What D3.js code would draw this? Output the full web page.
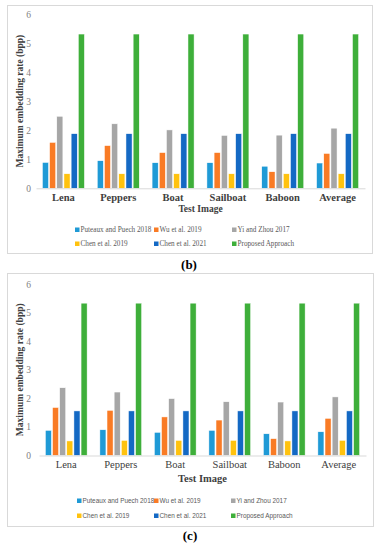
<!DOCTYPE html>
<html><head><meta charset="utf-8">
<script src="https://cdn.jsdelivr.net/npm/d3@7"></script>
<style>body{margin:0;background:#fff}svg{display:block}</style>
</head><body>
<svg id="c" width="379" height="550"></svg>
<script>
const categories = ["Lena","Peppers","Boat","Sailboat","Baboon","Average"];
const seriesNames = ["Puteaux and Puech 2018","Wu et al. 2019","Yi and Zhou 2017","Chen et al. 2019","Chen et al. 2021","Proposed Approach"];
const seriesColors = ["#1f9ad6","#f97b25","#a6a6a6","#ffc20e","#1469c4","#3eaf3a"];
const yTicks = [0,1,2,3,4,5,6];

// Chart (b)
const bPuteaux  = [0.89,0.95,0.88,0.88,0.76,0.87];
const bWu       = [1.58,1.47,1.23,1.23,0.57,1.20];
const bYi       = [2.48,2.22,2.01,1.82,1.83,2.07];
const bChen2019 = [0.50,0.50,0.50,0.50,0.50,0.50];
const bChen2021 = [1.88,1.88,1.88,1.88,1.88,1.88];
const bProposed = [5.31,5.31,5.31,5.31,5.31,5.31];

// Chart (c)
const cPuteaux  = [0.88,0.90,0.81,0.88,0.76,0.83];
const cWu       = [1.68,1.58,1.35,1.24,0.59,1.30];
const cYi       = [2.37,2.22,1.99,1.88,1.87,2.05];
const cChen2019 = [0.51,0.53,0.53,0.53,0.51,0.53];
const cChen2021 = [1.56,1.56,1.56,1.56,1.56,1.56];
const cProposed = [5.33,5.33,5.33,5.33,5.33,5.33];

const svg = d3.select("#c");
const SERIF = "'Liberation Serif','Times New Roman',serif";
const SANS = "'Liberation Sans',Arial,sans-serif";

function drawChart(opt){
  const series = opt.series;
  const g = svg.append("g");
  g.append("rect").attr("x",opt.box[0]+0.5).attr("y",opt.box[1]+0.5)
    .attr("width",opt.box[2]-opt.box[0]).attr("height",opt.box[3]-opt.box[1])
    .attr("fill","#fff").attr("stroke","#d9d9d9").attr("stroke-width",1);
  const x = d3.scaleBand().domain(categories).range(opt.xr).paddingInner(0.234).paddingOuter(0.117);
  const xi = d3.scaleBand().domain(d3.range(series.length)).range([0,x.bandwidth()]).paddingInner(0.15);
  const y = d3.scaleLinear().domain([0,6]).range(opt.yr);
  const ya = d3.axisLeft(y).tickValues(yTicks).tickFormat(d3.format("d")).tickSize(0).tickPadding(0);
  const yg = g.append("g").attr("transform",`translate(${opt.tickX},0)`).call(ya);
  yg.select(".domain").remove();
  yg.selectAll("text").attr("font-family",SERIF).attr("font-size",9.5).attr("fill","#7f7f7f");
  series.forEach((vals,si)=>{
    g.append("g").selectAll("rect").data(vals).join("rect")
      .attr("x",(d,i)=>x(categories[i])+xi(si))
      .attr("y",d=>y(d))
      .attr("width",xi.bandwidth())
      .attr("height",d=>y(0)-y(d))
      .attr("fill",seriesColors[si])
      .attr("stroke","#fff").attr("stroke-width",0.5);
  });
  const xa = d3.axisBottom(x).tickSize(0).tickPadding(opt.catPad);
  const xg = g.append("g").attr("transform",`translate(0,${y(0)})`).call(xa);
  xg.select(".domain").attr("stroke","#d9d9d9").attr("stroke-width",1);
  xg.selectAll("text").attr("font-family",SERIF).attr("font-size",10.5)
    .attr("font-weight",opt.catBold?"bold":"normal").attr("fill","#404040");
  g.append("text").attr("transform",`translate(${opt.ytX},${(opt.yr[0]+opt.yr[1])/2}) rotate(-90)`)
    .attr("text-anchor","middle").attr("font-family",SERIF).attr("font-weight","bold")
    .attr("font-size",9.5).attr("fill","#404040").text("Maximum embedding rate (bpp)");
  g.append("text").attr("x",(opt.xr[0]+opt.xr[1])/2).attr("y",opt.xtY)
    .attr("text-anchor","middle").attr("font-family",SERIF).attr("font-weight","bold")
    .attr("font-size",opt.xtSize).attr("fill","#404040").text("Test Image");
  const lg = g.append("g");
  seriesNames.forEach((name,i)=>{
    const col = i%3, row = Math.floor(i/3);
    const lx = opt.legX[col], ly = opt.legY[row];
    lg.append("rect").attr("x",lx).attr("y",ly-4.5).attr("width",4.5).attr("height",4.5).attr("fill",seriesColors[i]);
    lg.append("text").attr("x",lx+5.5).attr("y",ly).attr("font-family",opt.legFont)
      .attr("font-size",opt.legSize).attr("fill","#595959").text(name);
  });
  svg.append("text").attr("x",opt.lab[0]).attr("y",opt.lab[1]).attr("text-anchor","middle")
    .attr("font-family",SERIF).attr("font-size",13).attr("font-weight","bold").attr("fill","#000").text(opt.label);
}

drawChart({
  series:[bPuteaux,bWu,bYi,bChen2019,bChen2021,bProposed],
  box:[7,5,372,253], xr:[36,365], yr:[188.3,14], tickX:31, ytX:23,
  catPad:5, catBold:true, xtY:212, xtSize:9.5,
  legX:[75,154,232], legY:[232,246], legFont:SERIF, legSize:7.2,
  lab:[189,269], label:"(b)"
});
drawChart({
  series:[cPuteaux,cWu,cYi,cChen2019,cChen2021,cProposed],
  box:[7,273,373,526], xr:[39,366], yr:[455.5,284], tickX:31, ytX:23,
  catPad:5, catBold:false, xtY:482, xtSize:10.5,
  legX:[77,154,231], legY:[503,518], legFont:SANS, legSize:6.4,
  lab:[190,540], label:"(c)"
});
</script>
</body></html>
